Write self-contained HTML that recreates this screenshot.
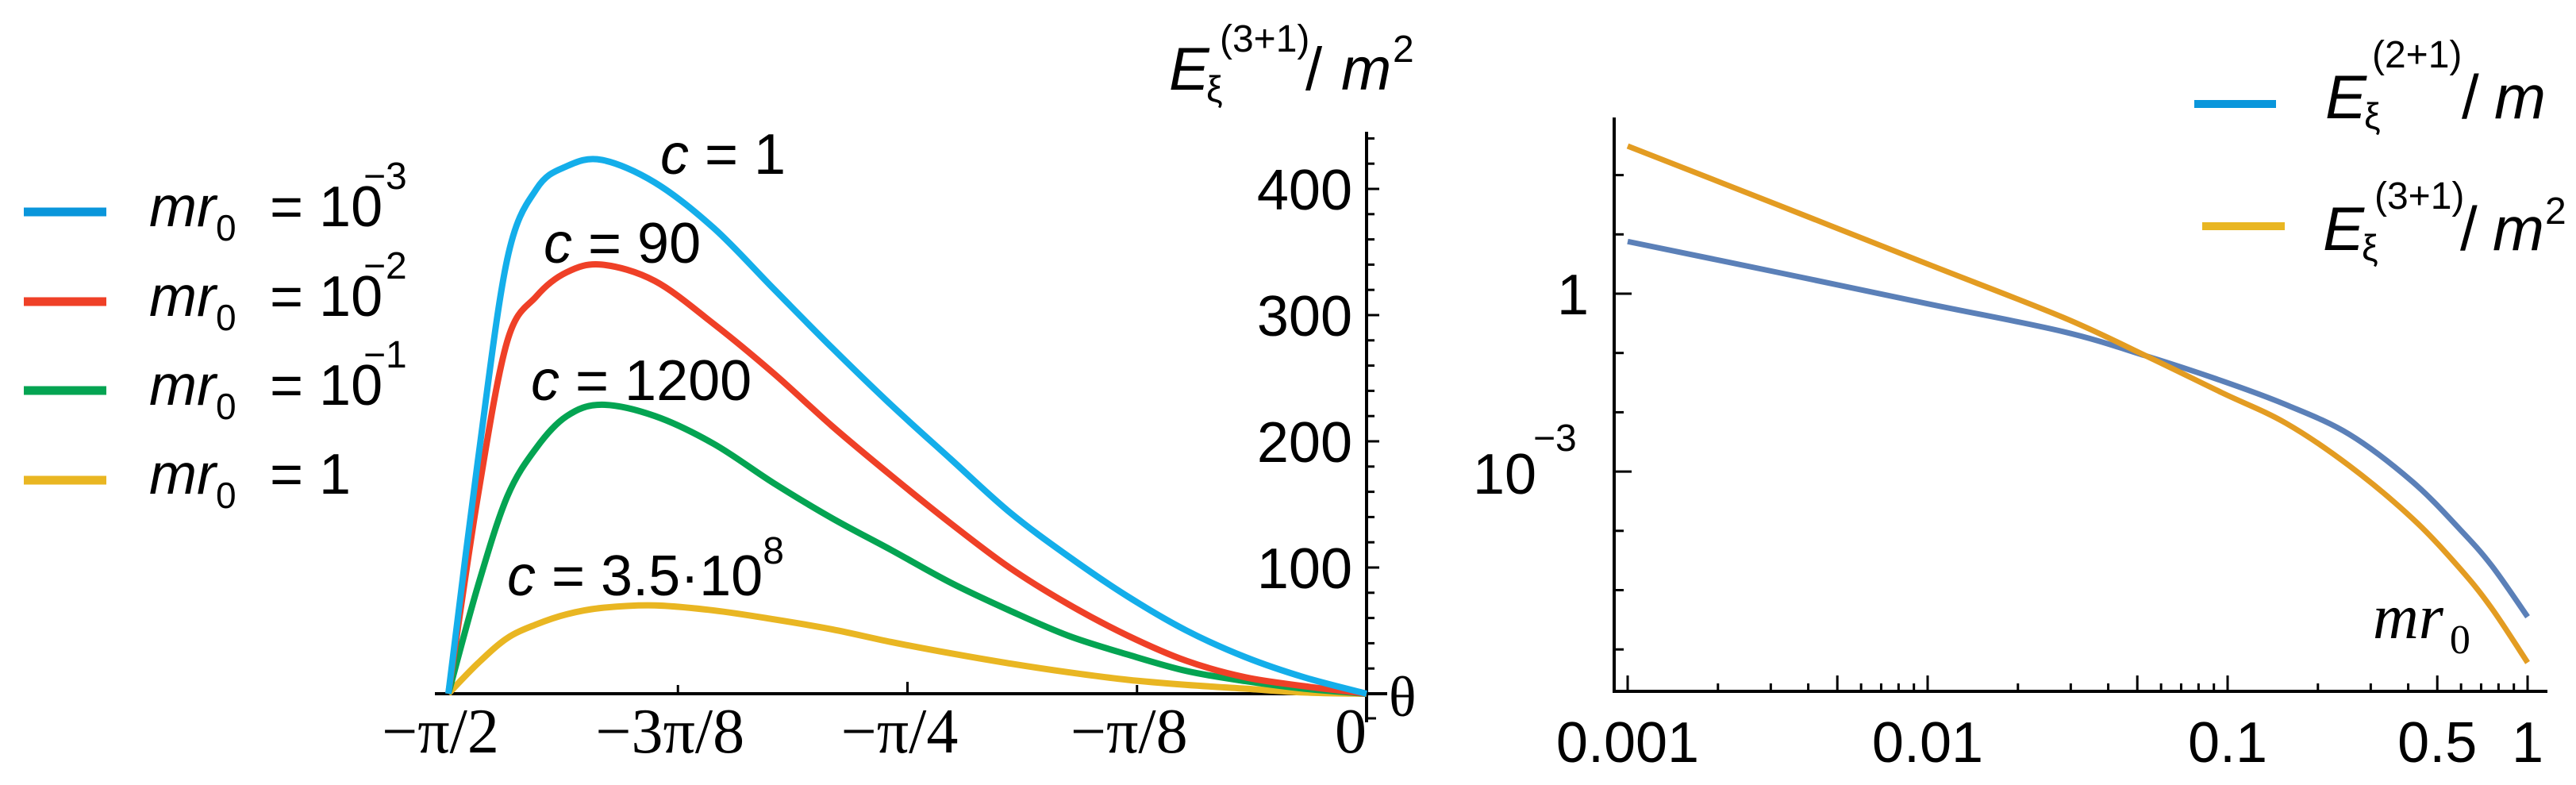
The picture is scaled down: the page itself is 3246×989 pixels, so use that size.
<!DOCTYPE html>
<html><head><meta charset="utf-8"><style>
html,body{margin:0;padding:0;background:#fff;}
svg{display:block;font-family:"Liberation Sans",Arial,sans-serif;}
.serif{font-family:"Liberation Serif","Times New Roman",serif;}
</style></head><body>
<svg id="chart" width="3246" height="989" viewBox="0 0 3246 989" xmlns="http://www.w3.org/2000/svg">
<g id="left"></g>
<g id="right"></g>

<g font-size="72">
 <g>
  <line x1="30" y1="267" x2="134" y2="267" stroke="#0a96db" stroke-width="11"/>
  <text x="188" y="285"><tspan font-style="italic">mr</tspan><tspan x="272" y="303" font-size="46">0</tspan><tspan x="320" y="285"> = 10</tspan><tspan x="458" y="238" font-size="48">−3</tspan></text>
 </g>
 <g>
  <line x1="30" y1="380" x2="134" y2="380" stroke="#ef4027" stroke-width="11"/>
  <text x="188" y="398"><tspan font-style="italic">mr</tspan><tspan x="272" y="416" font-size="46">0</tspan><tspan x="320" y="398"> = 10</tspan><tspan x="458" y="351" font-size="48">−2</tspan></text>
 </g>
 <g>
  <line x1="30" y1="492" x2="134" y2="492" stroke="#04a452" stroke-width="11"/>
  <text x="188" y="510"><tspan font-style="italic">mr</tspan><tspan x="272" y="528" font-size="46">0</tspan><tspan x="320" y="510"> = 10</tspan><tspan x="458" y="463" font-size="48">−1</tspan></text>
 </g>
 <g>
  <line x1="30" y1="605" x2="134" y2="605" stroke="#e9b622" stroke-width="11"/>
  <text x="188" y="622"><tspan font-style="italic">mr</tspan><tspan x="272" y="640" font-size="46">0</tspan><tspan x="320" y="622"> = 1</tspan></text>
 </g>
</g>

<g>
 <text x="1473" y="113" font-size="76" font-style="italic">E</text>
 <text x="1520" y="128" font-size="46">ξ</text>
 <text x="1537" y="65" font-size="48">(3+1)</text>
 <text x="1645" y="113" font-size="76">/</text>
 <text x="1690" y="113" font-size="76" font-style="italic">m</text>
 <text x="1755" y="78" font-size="48">2</text>
</g>
<text x="1750" y="902" font-size="72" class="serif">θ</text>

<g font-size="72">
 <text x="832" y="219"><tspan font-style="italic">c</tspan> = 1</text>
 <text x="685" y="331"><tspan font-style="italic">c</tspan> = 90</text>
 <text x="669" y="504"><tspan font-style="italic">c</tspan> = 1200</text>
 <text x="639" y="750"><tspan font-style="italic">c</tspan> = 3.5·10<tspan font-size="48" dy="-40">8</tspan></text>
</g>

<g>
 <g>
  <line x1="2765" y1="131" x2="2868" y2="131" stroke="#0a96db" stroke-width="10"/>
  <text x="2930" y="149" font-size="78" font-style="italic">E</text>
  <text x="2979" y="162" font-size="46">ξ</text>
  <text x="2989" y="85" font-size="48">(2+1)</text>
  <text x="3102" y="149" font-size="78">/</text>
  <text x="3143" y="149" font-size="78" font-style="italic">m</text>
 </g>
 <g>
  <line x1="2775" y1="285" x2="2879" y2="285" stroke="#e9b622" stroke-width="10"/>
  <text x="2927" y="315" font-size="78" font-style="italic">E</text>
  <text x="2976" y="328" font-size="46">ξ</text>
  <text x="2992" y="263" font-size="48">(3+1)</text>
  <text x="3100" y="315" font-size="78">/</text>
  <text x="3141" y="315" font-size="78" font-style="italic">m</text>
  <text x="3207" y="282" font-size="48">2</text>
 </g>
</g>
<text x="2990" y="804" font-size="80" class="serif"><tspan font-style="italic">mr</tspan><tspan font-size="52" dy="19" dx="8">0</tspan></text>
</svg>
<script>
// ---------- left chart data ----------
const thetaFrac = [0, 0.032, 0.064, 0.096, 0.129, 0.167, 0.225, 0.289, 0.354, 0.418, 0.482, 0.547, 0.611, 0.675, 0.74, 0.804, 0.868, 0.932, 1.0];
const seriesA = [0, 184, 344, 400, 418, 423, 405, 369, 321, 274, 229, 186, 144, 109, 77, 50, 29, 13, 0];
const seriesB = [0, 156, 279, 315, 334, 340, 327, 293, 254, 212, 173, 135, 100, 71, 46, 26, 13, 6, 0];
const seriesC = [0, 85, 156, 195, 220, 229, 220, 198, 167, 139, 114, 88, 66, 46, 31, 18, 10, 4, 0];
const seriesD = [0, 24, 44, 55, 63, 68, 70, 66, 59, 51, 41, 32, 24, 17, 11, 7, 4, 1, 0];
const leftXTickFrac = [0, 0.25, 0.5, 0.75, 1];
const leftXTickLabels = ["−π/2", "−3π/8", "−π/4", "−π/8", "0"];
const leftYTicks = [100, 200, 300, 400];
// ---------- right chart data ----------
const mr0 = [0.001, 0.00316, 0.01, 0.0283, 0.0535, 0.0957, 0.156, 0.254, 0.413, 0.596, 0.760, 1];
const E2 = [7.59, 2.29, 0.676, 0.229, 0.0891, 0.0339, 0.0135, 0.00427, 0.000676, 0.000105, 0.0000257, 0.00000355];
const E3 = [309, 31.6, 3.16, 0.398, 0.0891, 0.0214, 0.0066, 0.00126, 0.000162, 0.0000229, 0.0000049, 0.0000006];
const rightXTicks = [0.001, 0.01, 0.1, 0.5, 1];
const rightXTickLabels = ["0.001", "0.01", "0.1", "0.5", "1"];

const NS = "http://www.w3.org/2000/svg";
function mk(parent, tag, attrs) {
  const e = document.createElementNS(NS, tag);
  for (const k in attrs) e.setAttribute(k, attrs[k]);
  parent.appendChild(e);
  return e;
}
function smooth(pts) {
  let d = "M" + pts[0][0] + "," + pts[0][1];
  for (let i = 0; i < pts.length - 1; i++) {
    const p0 = pts[Math.max(i - 1, 0)], p1 = pts[i], p2 = pts[i + 1], p3 = pts[Math.min(i + 2, pts.length - 1)];
    const c1x = p1[0] + (p2[0] - p0[0]) / 6, c1y = p1[1] + (p2[1] - p0[1]) / 6;
    const c2x = p2[0] - (p3[0] - p1[0]) / 6, c2y = p2[1] - (p3[1] - p1[1]) / 6;
    d += " C" + c1x + "," + c1y + " " + c2x + "," + c2y + " " + p2[0] + "," + p2[1];
  }
  return d;
}

// ---------- left ----------
const L = document.getElementById("left");
const lx = f => 565 + f * (1722 - 565);
const ly = v => 874 - v * (874 - 238) / 400;
let e;
e = mk(L, "line", {x1: 548, y1: 874, x2: 1748, y2: 874, stroke: "#000", "stroke-width": 4});


e = mk(L, "line", {x1: 1722, y1: 166, x2: 1722, y2: 910, stroke: "#000", "stroke-width": 4});


for (let v = 0; v <= 440; v += 20) {
  const major = (v % 100 === 0);
  e = mk(L, "line", {x1: 1722, y1: ly(v), x2: 1722 + (major ? 16 : 10), y2: ly(v), stroke: "#000", "stroke-width": 3});
  
  
}
e = mk(L, "line", {x1: 1722, y1: 905, x2: 1734, y2: 905, stroke: "#000", "stroke-width": 3});


leftYTicks.forEach(v => {
  const t = mk(L, "text", {x: 1704, y: ly(v) + 26, "font-size": 72, "text-anchor": "end"});
  t.textContent = v;
  
  
});
leftXTickFrac.forEach((f, i) => {
  const len = (i === 2) ? 13 : 9;
  if (i < 4) {
    e = mk(L, "line", {x1: lx(f), y1: 874, x2: lx(f), y2: 874 - len - 2, stroke: "#000", "stroke-width": 3});
    
    
  }
  const t = mk(L, "text", {x: (i === 4 ? lx(f) - 20 : lx(f) - 10), y: 948, "font-size": 80, "text-anchor": "middle", class: "serif"});
  t.textContent = leftXTickLabels[i];
  
  
});
const leftSeries = [[seriesD, "#e9b622", "curve-mr0-1"], [seriesC, "#04a452", "curve-mr0-1e-1"], [seriesB, "#ef4027", "curve-mr0-1e-2"], [seriesA, "#14aeea", "curve-mr0-1e-3"]];
leftSeries.forEach(s => {
  const pts = thetaFrac.map((f, i) => [lx(f), ly(s[0][i])]);
  const p = mk(L, "path", {d: smooth(pts), fill: "none", stroke: s[1], "stroke-width": 8, "stroke-linejoin": "round"});
  
  
});

// ---------- right ----------
const R = document.getElementById("right");
const rx = v => 3185 + Math.log10(v) * 378;
const ry = v => 370 - Math.log10(v) * 74.7;
const AX = 871;
e = mk(R, "line", {x1: 2034, y1: AX, x2: 3210, y2: AX, stroke: "#000", "stroke-width": 4});


e = mk(R, "line", {x1: 2034, y1: 148, x2: 2034, y2: AX + 2, stroke: "#000", "stroke-width": 4});


for (let p = 2; p >= -6; p--) {
  const major = (p === 0 || p === -3);
  e = mk(R, "line", {x1: 2034, y1: ry(Math.pow(10, p)), x2: 2034 + (major ? 22 : 12), y2: ry(Math.pow(10, p)), stroke: "#000", "stroke-width": 3});
  
  
}
for (let p = -3; p <= -1; p++) {
  for (let k = 1; k <= 10; k++) {
    const v = k * Math.pow(10, p);
    const major = (k === 1 || k === 5 || k === 10);
    e = mk(R, "line", {x1: rx(v), y1: AX, x2: rx(v), y2: AX - (major ? 20 : 10), stroke: "#000", "stroke-width": 3});
    
    
  }
}
rightXTicks.forEach((v, i) => {
  const t = mk(R, "text", {x: rx(v), y: 960, "font-size": 72, "text-anchor": "middle"});
  t.textContent = rightXTickLabels[i];
  
  
});
let t = mk(R, "text", {x: 2002, y: 396, "font-size": 72, "text-anchor": "end"});
t.textContent = "1";


t = mk(R, "text", {x: 1856, y: 622, "font-size": 72});
t.textContent = "10";


t = mk(R, "text", {x: 1932, y: 568, "font-size": 48});
t.textContent = "−3";


[[E2, "#5b80b8", "curve-2plus1"], [E3, "#e39c22", "curve-3plus1"]].forEach(s => {
  const pts = mr0.map((x, i) => [rx(x), ry(s[0][i])]);
  const p = mk(R, "path", {d: smooth(pts), fill: "none", stroke: s[1], "stroke-width": 7});
  
  
});
</script>
</body></html>
